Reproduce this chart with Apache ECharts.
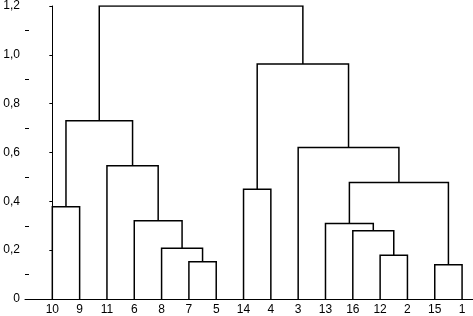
<!DOCTYPE html>
<html lang="en">
<head>
    <meta charset="UTF-8">
    <title>Dendrogram</title>
    <script src="https://cdn.jsdelivr.net/npm/echarts@6/dist/echarts.min.js"></script>
    <style type="text/css">
        html, body { margin: 0; padding: 0; background: #fff; }
    </style>
</head>
<body>
<div id="main" style="width: 473px;height:316px;"></div>
<script type="text/javascript">
    // leaf order along the x axis
    var leaves = ['10', '9', '11', '6', '8', '7', '5', '14', '4', '3', '13', '16', '12', '2', '15', '1'];
    // merges: [left node, right node, height]; node ids 0..15 are leaves, 16.. are merges in this order
    var merges = [
        [5, 6, 0.153],   // 16: 7,5
        [4, 16, 0.208],  // 17
        [3, 17, 0.32],   // 18
        [2, 18, 0.546],  // 19
        [0, 1, 0.378],   // 20: 10,9
        [20, 19, 0.73],  // 21
        [7, 8, 0.45],    // 22: 14,4
        [12, 13, 0.179], // 23: 12,2
        [11, 23, 0.28],  // 24
        [10, 24, 0.309], // 25
        [14, 15, 0.14],  // 26: 15,1
        [25, 26, 0.477], // 27
        [9, 27, 0.62],   // 28
        [22, 28, 0.962], // 29
        [21, 29, 1.2]    // 30
    ];
    var yTicks = [0, 0.2, 0.4, 0.6, 0.8, 1.0, 1.2];
    var yMinorTicks = [0.1, 0.3, 0.5, 0.7, 0.9, 1.1];

    // node positions: x = leaf index or midpoint of children, y = merge height
    var nodeX = [], nodeY = [];
    for (var i = 0; i < leaves.length; i++) {
        nodeX.push(i);
        nodeY.push(0);
    }
    var links = [];
    for (var j = 0; j < merges.length; j++) {
        var a = merges[j][0], b = merges[j][1], h = merges[j][2];
        links.push({
            coords: [[nodeX[a], nodeY[a]], [nodeX[a], h], [nodeX[b], h], [nodeX[b], nodeY[b]]]
        });
        nodeX.push((nodeX[a] + nodeX[b]) / 2);
        nodeY.push(h);
    }

    var fmtY = function (v) {
        return v === 0 ? '0' : v.toFixed(1).replace('.', ',');
    };

    var myChart = echarts.init(document.getElementById('main'));
    var option = {
        animation: false,
        grid: { left: 25, right: 0, top: 6, bottom: 17 },
        xAxis: {
            type: 'value',
            min: -1,
            max: 15.4,
            interval: 1,
            splitLine: { show: false },
            axisTick: { show: false },
            axisLine: { lineStyle: { color: '#000', width: 1 } },
            axisLabel: {
                color: '#000',
                fontFamily: 'Liberation Sans',
                fontSize: 12,
                margin: 5,
                showMaxLabel: false,
                formatter: function (v) {
                    return (v >= 0 && v < leaves.length && v % 1 === 0) ? leaves[v] : '';
                }
            }
        },
        yAxis: [{
            type: 'value',
            min: 0,
            max: 1.2,
            interval: 0.2,
            splitLine: { show: false },
            axisLine: { show: true, lineStyle: { color: '#000', width: 1 } },
            axisTick: { show: true, length: 3, lineStyle: { color: '#000' } },
            axisLabel: {
                color: '#000',
                fontFamily: 'Liberation Sans',
                fontSize: 12,
                margin: 5,
                customValues: yTicks,
                formatter: fmtY
            }
        }, {
            // minor ticks sit on the inner side of the axis line
            type: 'value',
            min: 0,
            max: 1.2,
            position: 'left',
            offset: -4,
            splitLine: { show: false },
            axisLine: { show: false },
            axisLabel: { show: false },
            axisTick: { show: true, length: 4, customValues: yMinorTicks, lineStyle: { color: '#000' } }
        }],
        series: [{
            type: 'lines',
            coordinateSystem: 'cartesian2d',
            polyline: true,
            silent: true,
            lineStyle: { color: '#000', width: 1.5, opacity: 1 },
            data: links
        }]
    };
    myChart.setOption(option);
</script>
</body>
</html>
